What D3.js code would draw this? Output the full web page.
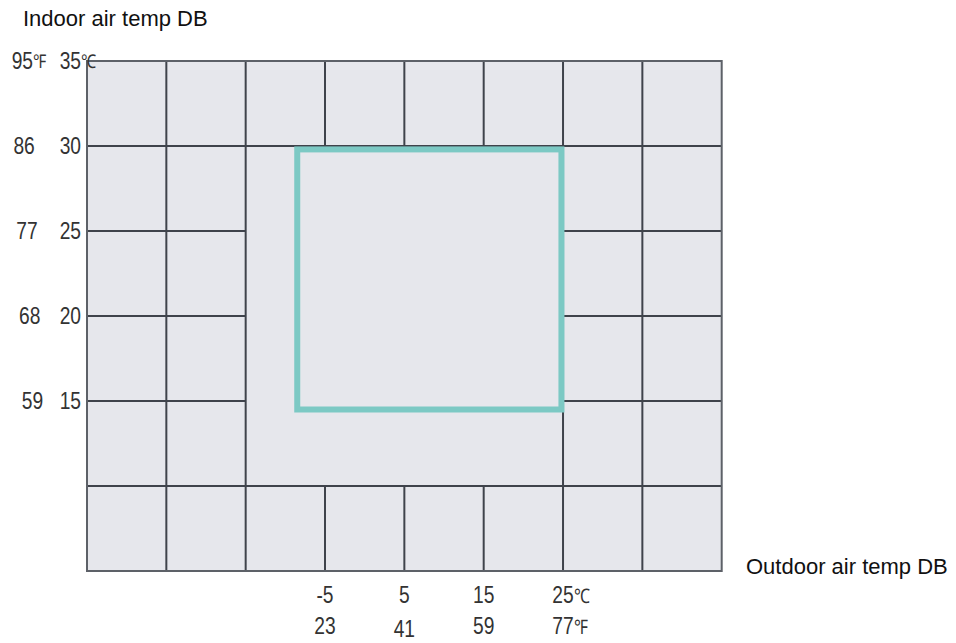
<!DOCTYPE html>
<html><head><meta charset="utf-8">
<script src="https://cdn.jsdelivr.net/npm/d3@7"></script>
<style>body{margin:0;background:#fff}svg{display:block}</style>
</head><body>
<svg id="c" width="956" height="643"></svg>
<script>
// Grid values (°C)
const xGrid = [-35, -25, -15, -5, 5, 15, 25, 35, 45];
const yGrid = [35, 30, 25, 20, 15, 10, 5];
// Axis labels
const yTicksC = [35, 30, 25, 20, 15];
const yTicksF = [95, 86, 77, 68, 59];
const xTicksC = [-5, 5, 15, 25];
const xTicksF = [23, 41, 59, 77];
// Operating range (outdoor °C, indoor °C)
const rangeOutdoor = [-8.5, 24.8];
const rangeIndoor = [14.5, 29.8];
// Region where inner grid lines are not drawn
const clearOutdoor = [-15, 25];
const clearIndoor = [10, 30];

const svg = d3.select("#c");
const x = d3.scaleLinear().domain([-35, 45]).range([87, 721.7]);
const y = d3.scaleLinear().domain([5, 35]).range([571, 61]);
const font = "'Liberation Sans', Arial, sans-serif";

// background
svg.append("rect")
  .attr("x", x(-35)).attr("y", y(35))
  .attr("width", x(45) - x(-35)).attr("height", y(5) - y(35))
  .attr("fill", "#e6e7ec");

const g = svg.append("g").attr("stroke", "#3f434b").attr("stroke-width", 2);
const xMin = -35, xMax = 45, yMin = 5, yMax = 35;

// vertical lines
xGrid.forEach(v => {
  if (v === xMin || v === xMax) return;
  if (v > clearOutdoor[0] && v < clearOutdoor[1]) {
    g.append("line").attr("x1", x(v)).attr("x2", x(v)).attr("y1", y(yMax)).attr("y2", y(clearIndoor[1]));
    g.append("line").attr("x1", x(v)).attr("x2", x(v)).attr("y1", y(clearIndoor[0])).attr("y2", y(yMin));
  } else {
    g.append("line").attr("x1", x(v)).attr("x2", x(v)).attr("y1", y(yMax)).attr("y2", y(yMin));
  }
});
// horizontal lines
yGrid.forEach(v => {
  if (v === yMin || v === yMax) return;
  if (v > clearIndoor[0] && v < clearIndoor[1]) {
    g.append("line").attr("x1", x(xMin)).attr("x2", x(clearOutdoor[0])).attr("y1", y(v)).attr("y2", y(v));
    g.append("line").attr("x1", x(clearOutdoor[1])).attr("x2", x(xMax)).attr("y1", y(v)).attr("y2", y(v));
  } else {
    g.append("line").attr("x1", x(xMin)).attr("x2", x(xMax)).attr("y1", y(v)).attr("y2", y(v));
  }
});
// border
svg.append("rect")
  .attr("x", x(xMin)).attr("y", y(yMax))
  .attr("width", x(xMax) - x(xMin)).attr("height", y(yMin) - y(yMax))
  .attr("fill", "none").attr("stroke", "#5d6168").attr("stroke-width", 2);

// operating range box
svg.append("rect")
  .attr("x", x(rangeOutdoor[0])).attr("y", y(rangeIndoor[1]))
  .attr("width", x(rangeOutdoor[1]) - x(rangeOutdoor[0]))
  .attr("height", y(rangeIndoor[0]) - y(rangeIndoor[1]))
  .attr("fill", "none").attr("stroke", "#7cc9c4").attr("stroke-width", 6);

// condensed label helper
const lab = svg.append("g").attr("font-family", font).attr("font-size", 24).attr("fill", "#333");
const SX = 0.8;
function label(tx, ty, txt, anchor, size) {
  const t = lab.append("text")
    .attr("transform", `translate(${tx},${ty}) scale(${SX},1)`)
    .attr("text-anchor", anchor || "middle").text(txt);
  if (size) t.attr("font-size", size);
  return t;
}

// y labels
yTicksC.forEach((c, i) => {
  label(81, y(c) + 8, c, "end");
  label(i === 0 ? 33 : 32 + i * 2.8, y(c) + 8, yTicksF[i], "end");
});
// units for top label
label(81, y(35) + 7, "\u2103", "start", 19);
label(33, y(35) + 7, "\u2109", "start", 19);

// x labels
xTicksC.forEach((c, i) => {
  const t = label(x(c), 603, c, "middle");
  const t2 = label(x(c), i === 1 ? 637 : 634, xTicksF[i], "middle");
  if (i === xTicksC.length - 1) {
    const w = t.node().getComputedTextLength() * SX;
    label(x(c) + w / 2, 603, "\u2103", "start", 20);
    const w2 = t2.node().getComputedTextLength() * SX;
    label(x(c) + w2 / 2, 634, "\u2109", "start", 20);
  }
});

// axis titles
svg.append("text").attr("x", 23).attr("y", 26).attr("font-family", font).attr("font-size", 22)
  .attr("fill", "#111").text("Indoor air temp DB");
svg.append("text").attr("x", 746).attr("y", 574).attr("font-family", font).attr("font-size", 22)
  .attr("fill", "#111").text("Outdoor air temp DB");
</script>
</body></html>
